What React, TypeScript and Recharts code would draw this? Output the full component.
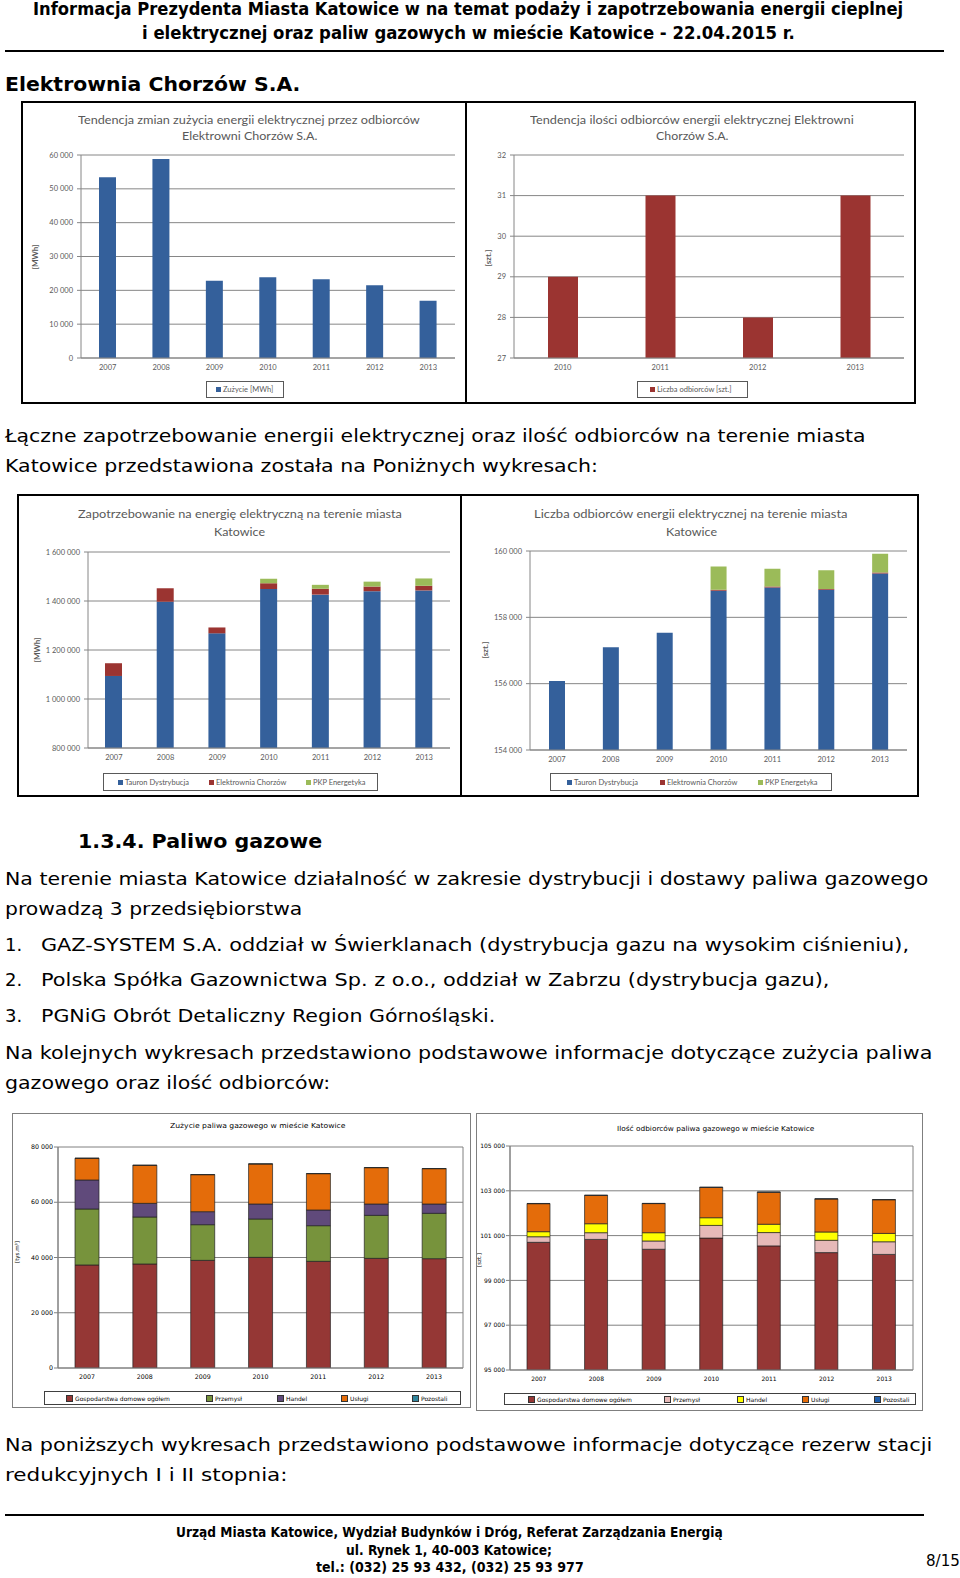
import React, { useLayoutEffect, useRef, useState } from "react";
import { BarChart, Bar, XAxis, YAxis, CartesianGrid } from "recharts";

const lata = ["2007", "2008", "2009", "2010", "2011", "2012", "2013"];
const lataChorzow = ["2010", "2011", "2012", "2013"];

// Elektrownia Chorzów S.A.
const zuzycieChorzow = [53400, 58800, 22800, 23900, 23300, 21500, 16900];
const odbiorcyChorzow = [29, 31, 28, 31];

// energia elektryczna w Katowicach [MWh]
const energiaTauron = [1094000, 1397000, 1268000, 1449000, 1426000, 1440000, 1443000];
const energiaChorzow = [52000, 55000, 24000, 23000, 24000, 19000, 19000];
const energiaPKP = [0, 0, 0, 19000, 16000, 20000, 30000];

// odbiorcy energii elektrycznej [szt.]
const odbTauron = [156080, 157095, 157538, 158800, 158900, 158830, 159320];
const odbChorzow = [0, 0, 0, 29, 31, 28, 31];
const odbPKP = [0, 0, 0, 700, 536, 559, 569];

// paliwo gazowe [tys.m3]
const gazGosp = [37300, 37650, 38970, 40060, 38610, 39700, 39580];
const gazPrzem = [20260, 17010, 12910, 13880, 12910, 15560, 16410];
const gazHandel = [10500, 4940, 4710, 5430, 5680, 4110, 3380];
const gazUslugi = [7840, 13760, 13390, 14480, 13150, 13150, 12790];
const gazPozostali = [60, 60, 50, 60, 50, 50, 50];

// odbiorcy paliwa gazowego [szt.]
const gOdbGosp = [100700, 100830, 100390, 100890, 100540, 100240, 100160];
const gOdbPrzem = [250, 300, 370, 565, 595, 550, 565];
const gOdbHandel = [225, 400, 370, 343, 372, 372, 372];
const gOdbUslugi = [1250, 1265, 1300, 1354, 1430, 1473, 1503];
const gOdbPozostali = [10, 10, 10, 10, 10, 10, 10];

const ticksZuzycie = [0, 10000, 20000, 30000, 40000, 50000, 60000];
const ticksOdbChorzow = [27, 28, 29, 30, 31, 32];
const ticksEnergia = [800000, 1000000, 1200000, 1400000, 1600000];
const ticksOdbEnergia = [154000, 156000, 158000, 160000];
const ticksGaz = [0, 20000, 40000, 60000, 80000];
const ticksOdbGaz = [95000, 97000, 99000, 101000, 103000, 105000];

const fmt = (v: number) => String(v).replace(/\B(?=(\d{3})+(?!\d))/g, " ");

const BLUE = "#34609b";
const RED = "#9b3431";
const GREEN = "#9bbb59";
const CAL = "Lato, 'Open Sans', sans-serif";
const VER = "'DejaVu Sans', Verdana, sans-serif";

type Seria = { key: string; name: string; color: string; values: number[] };

// tekst dopasowany do szerokości z oryginału
function Fit({ x, y, w, size, bold, family = VER, color = "#000", children }: any) {
  const ref = useRef<HTMLSpanElement>(null);
  const [k, setK] = useState(1);
  useLayoutEffect(() => {
    if (ref.current && w) {
      const nat = ref.current.offsetWidth;
      if (nat) setK(w / nat);
    }
  }, [w]);
  const lh = Math.round(size * 1.3);
  return (
    <span
      ref={ref}
      style={{
        position: "absolute",
        left: x,
        top: y - lh / 2,
        fontSize: size,
        lineHeight: `${lh}px`,
        whiteSpace: "nowrap",
        fontFamily: family,
        fontWeight: bold ? 700 : 400,
        color,
        transform: `scaleX(${k})`,
        transformOrigin: "0 0",
      }}
    >
      {children}
    </span>
  );
}

function Frame({ x, y, w, h, color = "#000", bw = 2, children }: any) {
  return (
    <div style={{ position: "absolute", left: x, top: y, width: w, height: h, background: "#fff" }}>
      {children}
      <div
        style={{
          position: "absolute",
          left: 0,
          top: 0,
          width: w,
          height: h,
          border: `${bw}px solid ${color}`,
          boxSizing: "border-box",
        }}
      />
    </div>
  );
}

function YLabel({ x, y, text, size, family, color }: any) {
  return (
    <div
      style={{
        position: "absolute",
        left: x,
        top: y,
        transform: "translate(-50%, -50%) rotate(-90deg)",
        fontSize: size,
        fontFamily: family,
        color,
        whiteSpace: "nowrap",
        fontWeight: family === CAL ? 700 : 400,
      }}
    >
      {text}
    </div>
  );
}

function Legenda({ x, y, w, h, items, size, family, color, border = "#595959" }: any) {
  return (
    <div
      style={{
        position: "absolute",
        left: x,
        top: y,
        width: w,
        height: h,
        border: `1px solid ${border}`,
        boxSizing: "border-box",
      }}
    >
      {items.map((it: any) => (
        <div
          key={it.name}
          style={{
            position: "absolute",
            left: it.at,
            top: 0,
            height: h - 2,
            display: "flex",
            alignItems: "center",
            fontSize: size,
            fontFamily: family,
            color,
            whiteSpace: "nowrap",
          }}
        >
          <span
            style={{
              display: "inline-block",
              width: 5,
              height: 5,
              background: it.color,
              border: it.edge ? `0.5px solid ${it.edge}` : undefined,
              marginRight: 2,
            }}
          />
          {it.name}
        </div>
      ))}
    </div>
  );
}

function Wykres({
  w,
  h,
  cats,
  series,
  domain,
  ticks,
  plot,
  barSize,
  family,
  fontSize,
  color,
  grid,
  box,
  barStroke,
}: any) {
  const xh = 16;
  const data = cats.map((rok: string, i: number) => {
    const row: any = { rok };
    series.forEach((s: Seria) => (row[s.key] = s.values[i]));
    return row;
  });
  const tick = { fontSize, fill: color, fontFamily: family };
  // własny tick osi Y, żeby "105 000" nie łamało się na dwie linie
  const yTick = (p: any) => (
    <text x={p.x} y={p.y} dy="0.35em" textAnchor="end" fontSize={fontSize} fill={color} fontFamily={family}>
      {fmt(p.payload.value)}
    </text>
  );
  return (
    <div style={{ position: "absolute", left: 0, top: 0 }}>
      <BarChart
        width={w}
        height={h}
        data={data}
        margin={{ top: plot.top, right: w - plot.right, left: 0, bottom: h - plot.bottom - xh }}
      >
        <CartesianGrid
          stroke={grid}
          vertical={!!box}
          verticalCoordinatesGenerator={({ offset }: any) => [offset.left, offset.left + offset.width]}
        />
        <XAxis
          dataKey="rok"
          height={xh}
          tick={tick}
          tickLine={false}
          axisLine={{ stroke: grid }}
          tickSize={4}
          tickMargin={3}
          interval={0}
        />
        <YAxis
          type="number"
          width={plot.left}
          domain={domain}
          ticks={ticks}
          allowDataOverflow
          interval={0}
          tick={yTick}
          axisLine={{ stroke: grid }}
          tickLine={{ stroke: grid }}
          tickSize={4}
          tickMargin={box ? 1 : 4}
        />
        {series.map((s: Seria) => (
          <Bar
            key={s.key}
            dataKey={s.key}
            name={s.name}
            stackId="s"
            fill={s.color}
            barSize={barSize}
            stroke={barStroke}
            strokeWidth={barStroke ? 0.7 : 0}
            isAnimationActive={false}
          />
        ))}
      </BarChart>
    </div>
  );
}

const seriaZuzycie: Seria[] = [{ key: "zuzycie", name: "Zużycie [MWh]", color: BLUE, values: zuzycieChorzow }];
const seriaOdbChorzow: Seria[] = [
  { key: "odb", name: "Liczba odbiorców [szt.]", color: RED, values: odbiorcyChorzow },
];
const seriaEnergia: Seria[] = [
  { key: "tauron", name: "Tauron Dystrybucja", color: BLUE, values: energiaTauron },
  { key: "chorzow", name: "Elektrownia Chorzów", color: RED, values: energiaChorzow },
  { key: "pkp", name: "PKP Energetyka", color: GREEN, values: energiaPKP },
];
const seriaOdbEnergia: Seria[] = [
  { key: "tauron", name: "Tauron Dystrybucja", color: BLUE, values: odbTauron },
  { key: "chorzow", name: "Elektrownia Chorzów", color: RED, values: odbChorzow },
  { key: "pkp", name: "PKP Energetyka", color: GREEN, values: odbPKP },
];
const seriaGaz: Seria[] = [
  { key: "gosp", name: "Gospodarstwa domowe ogółem", color: "#953735", values: gazGosp },
  { key: "przem", name: "Przemysł", color: "#77933c", values: gazPrzem },
  { key: "handel", name: "Handel", color: "#604a7b", values: gazHandel },
  { key: "uslugi", name: "Usługi", color: "#e46c0a", values: gazUslugi },
  { key: "pozostali", name: "Pozostali", color: "#31859c", values: gazPozostali },
];
const seriaOdbGaz: Seria[] = [
  { key: "gosp", name: "Gospodarstwa domowe ogółem", color: "#953735", values: gOdbGosp },
  { key: "przem", name: "Przemysł", color: "#e6b9b8", values: gOdbPrzem },
  { key: "handel", name: "Handel", color: "#ffff00", values: gOdbHandel },
  { key: "uslugi", name: "Usługi", color: "#e46c0a", values: gOdbUslugi },
  { key: "pozostali", name: "Pozostali", color: "#1f5fad", values: gOdbPozostali },
];

const GRAY = "#595959";

export default function App() {
  return (
    <div style={{ position: "absolute", left: 0, top: 0, width: 960, height: 1578, background: "#fff" }}>
      {/* nagłówek */}
      <Fit x={33} y={9} w={870} size={17} bold>
        Informacja Prezydenta Miasta Katowice w na temat podaży i zapotrzebowania energii cieplnej
      </Fit>
      <Fit x={142} y={33} w={653} size={17} bold>
        i elektrycznej oraz paliw gazowych w mieście Katowice - 22.04.2015 r.
      </Fit>
      <div style={{ position: "absolute", left: 5, top: 50, width: 939, height: 2, background: "#000" }} />

      <Fit x={5} y={84} w={295} size={20} bold>
        Elektrownia Chorzów S.A.
      </Fit>

      {/* Elektrownia Chorzów - zużycie */}
      <Frame x={21} y={101} w={446} h={303}>
        <Wykres
          w={446}
          h={303}
          cats={lata}
          series={seriaZuzycie}
          domain={[0, 60000]}
          ticks={ticksZuzycie}
          plot={{ left: 60, right: 434, top: 54, bottom: 257 }}
          barSize={17}
          family={CAL}
          fontSize={7.5}
          color={GRAY}
          grid="#868686"
        />
        <Fit x={57} y={18} w={342} size={11.5} family={CAL} color={GRAY}>
          Tendencja zmian zużycia energii elektrycznej przez odbiorców
        </Fit>
        <Fit x={161} y={34} w={135} size={11.5} family={CAL} color={GRAY}>
          Elektrowni Chorzów S.A.
        </Fit>
        <YLabel x={14} y={156} text="[MWh]" size={8} family={CAL} color={GRAY} />
        <Legenda
          x={185}
          y={280}
          w={78}
          h={17}
          size={7.5}
          family={CAL}
          color={GRAY}
          items={[{ name: "Zużycie [MWh]", color: BLUE, at: 9 }]}
        />
      </Frame>

      {/* Elektrownia Chorzów - odbiorcy */}
      <Frame x={465} y={101} w={451} h={303}>
        <Wykres
          w={451}
          h={303}
          cats={lataChorzow}
          series={seriaOdbChorzow}
          domain={[27, 32]}
          ticks={ticksOdbChorzow}
          plot={{ left: 49, right: 439, top: 54, bottom: 257 }}
          barSize={30}
          family={CAL}
          fontSize={7.5}
          color={GRAY}
          grid="#868686"
        />
        <Fit x={65} y={18} w={324} size={11.5} family={CAL} color={GRAY}>
          Tendencja ilości odbiorców energii elektrycznej Elektrowni
        </Fit>
        <Fit x={191} y={34} w={73} size={11.5} family={CAL} color={GRAY}>
          Chorzów S.A.
        </Fit>
        <YLabel x={23} y={157} text="[szt.]" size={8} family={CAL} color={GRAY} />
        <Legenda
          x={172}
          y={280}
          w={111}
          h={17}
          size={7.5}
          family={CAL}
          color={GRAY}
          items={[{ name: "Liczba odbiorców [szt.]", color: RED, at: 12 }]}
        />
      </Frame>

      <Fit x={5} y={435} w={860} size={18}>
        Łączne zapotrzebowanie energii elektrycznej oraz ilość odbiorców na terenie miasta
      </Fit>
      <Fit x={5} y={465} w={593} size={18}>
        Katowice przedstawiona została na Poniżnych wykresach:
      </Fit>

      {/* zapotrzebowanie na energię */}
      <Frame x={17} y={494} w={445} h={303}>
        <Wykres
          w={445}
          h={303}
          cats={lata}
          series={seriaEnergia}
          domain={[800000, 1600000]}
          ticks={ticksEnergia}
          plot={{ left: 71, right: 433, top: 58, bottom: 254 }}
          barSize={17}
          family={CAL}
          fontSize={7.5}
          color={GRAY}
          grid="#868686"
        />
        <Fit x={61} y={19} w={324} size={11.5} family={CAL} color={GRAY}>
          Zapotrzebowanie na energię elektryczną na terenie miasta
        </Fit>
        <Fit x={197} y={37} w={51} size={11.5} family={CAL} color={GRAY}>
          Katowice
        </Fit>
        <YLabel x={20} y={156} text="[MWh]" size={8} family={CAL} color={GRAY} />
        <Legenda
          x={86}
          y={279}
          w={275}
          h={18}
          size={7.5}
          family={CAL}
          color={GRAY}
          items={seriaEnergia.map((s, i) => ({ name: s.name, color: s.color, at: [14, 105, 202][i] }))}
        />
      </Frame>

      {/* liczba odbiorców energii */}
      <Frame x={460} y={494} w={459} h={303}>
        <Wykres
          w={459}
          h={303}
          cats={lata}
          series={seriaOdbEnergia}
          domain={[154000, 160000]}
          ticks={ticksOdbEnergia}
          plot={{ left: 70, right: 447, top: 57, bottom: 256 }}
          barSize={16}
          family={CAL}
          fontSize={7.5}
          color={GRAY}
          grid="#868686"
        />
        <Fit x={74} y={19} w={314} size={11.5} family={CAL} color={GRAY}>
          Liczba odbiorców energii elektrycznej na terenie miasta
        </Fit>
        <Fit x={206} y={37} w={51} size={11.5} family={CAL} color={GRAY}>
          Katowice
        </Fit>
        <YLabel x={25} y={156} text="[szt.]" size={8} family={CAL} color={GRAY} />
        <Legenda
          x={90}
          y={279}
          w={282}
          h={18}
          size={7.5}
          family={CAL}
          color={GRAY}
          items={seriaOdbEnergia.map((s, i) => ({ name: s.name, color: s.color, at: [16, 109, 207][i] }))}
        />
      </Frame>

      <Fit x={78} y={841} w={244} size={20} bold>
        1.3.4. Paliwo gazowe
      </Fit>
      <Fit x={5} y={878} w={923} size={18}>
        Na terenie miasta Katowice działalność w zakresie dystrybucji i dostawy paliwa gazowego
      </Fit>
      <Fit x={5} y={908} w={297} size={18}>
        prowadzą 3 przedsiębiorstwa
      </Fit>
      <Fit x={5} y={944} size={18}>
        1.
      </Fit>
      <Fit x={41} y={944} w={868} size={18}>
        GAZ-SYSTEM S.A. oddział w Świerklanach (dystrybucja gazu na wysokim ciśnieniu),
      </Fit>
      <Fit x={5} y={979} size={18}>
        2.
      </Fit>
      <Fit x={41} y={979} w={789} size={18}>
        Polska Spółka Gazownictwa Sp. z o.o., oddział w Zabrzu (dystrybucja gazu),
      </Fit>
      <Fit x={5} y={1015} size={18}>
        3.
      </Fit>
      <Fit x={41} y={1015} w={454} size={18}>
        PGNiG Obrót Detaliczny Region Górnośląski.
      </Fit>
      <Fit x={5} y={1052} w={927} size={18}>
        Na kolejnych wykresach przedstawiono podstawowe informacje dotyczące zużycia paliwa
      </Fit>
      <Fit x={5} y={1082} w={325} size={18}>
        gazowego oraz ilość odbiorców:
      </Fit>

      {/* zużycie paliwa gazowego */}
      <Frame x={12} y={1113} w={459} h={295} color="#7f7f7f" bw={1.5}>
        <Wykres
          w={459}
          h={295}
          cats={lata}
          series={seriaGaz}
          domain={[0, 80000]}
          ticks={ticksGaz}
          plot={{ left: 46, right: 451, top: 34, bottom: 255 }}
          barSize={24}
          family={VER}
          fontSize={6.3}
          color="#000"
          grid="#808080"
          box
          barStroke="#222"
        />
        <Fit x={158} y={13} w={176} size={7} family={VER}>
          Zużycie paliwa gazowego w mieście Katowice
        </Fit>
        <YLabel x={5} y={139} text="[tys.m³]" size={5.5} family={VER} color="#000" />
        <Legenda
          x={32}
          y={278}
          w={417}
          h={14}
          size={6}
          family={VER}
          color="#000"
          border="#404040"
          items={seriaGaz.map((s, i) => ({
            name: s.name,
            color: s.color,
            edge: "#333",
            at: [21, 161, 232, 296, 367][i],
          }))}
        />
      </Frame>

      {/* odbiorcy paliwa gazowego */}
      <Frame x={476} y={1113} w={447} h={298} color="#7f7f7f" bw={1.5}>
        <Wykres
          w={447}
          h={298}
          cats={lata}
          series={seriaOdbGaz}
          domain={[95000, 105000]}
          ticks={ticksOdbGaz}
          plot={{ left: 34, right: 437, top: 33, bottom: 257 }}
          barSize={23}
          family={VER}
          fontSize={6}
          color="#000"
          grid="#808080"
          box
          barStroke="#222"
        />
        <Fit x={141} y={16} w={197} size={7} family={VER}>
          Ilość odbiorców paliwa gazowego w mieście Katowice
        </Fit>
        <YLabel x={3} y={147} text="[szt.]" size={5.5} family={VER} color="#000" />
        <Legenda
          x={28}
          y={280}
          w={412}
          h={12}
          size={6}
          family={VER}
          color="#000"
          border="#404040"
          items={seriaOdbGaz.map((s, i) => ({
            name: s.name,
            color: s.color,
            edge: "#333",
            at: [23, 159, 232, 297, 369][i],
          }))}
        />
      </Frame>

      <Fit x={5} y={1444} w={927} size={18}>
        Na poniższych wykresach przedstawiono podstawowe informacje dotyczące rezerw stacji
      </Fit>
      <Fit x={5} y={1474} w={282} size={18}>
        redukcyjnych I i II stopnia:
      </Fit>

      {/* stopka */}
      <div style={{ position: "absolute", left: 5, top: 1514, width: 919, height: 2, background: "#000" }} />
      <Fit x={176} y={1532} w={547} size={14} bold>
        Urząd Miasta Katowice, Wydział Budynków i Dróg, Referat Zarządzania Energią
      </Fit>
      <Fit x={346} y={1550} w={206} size={14} bold>
        ul. Rynek 1, 40-003 Katowice;
      </Fit>
      <Fit x={316} y={1567} w={268} size={14} bold>
        tel.: (032) 25 93 432, (032) 25 93 977
      </Fit>
      <Fit x={926} y={1560} w={34} size={16}>
        8/15
      </Fit>
    </div>
  );
}
